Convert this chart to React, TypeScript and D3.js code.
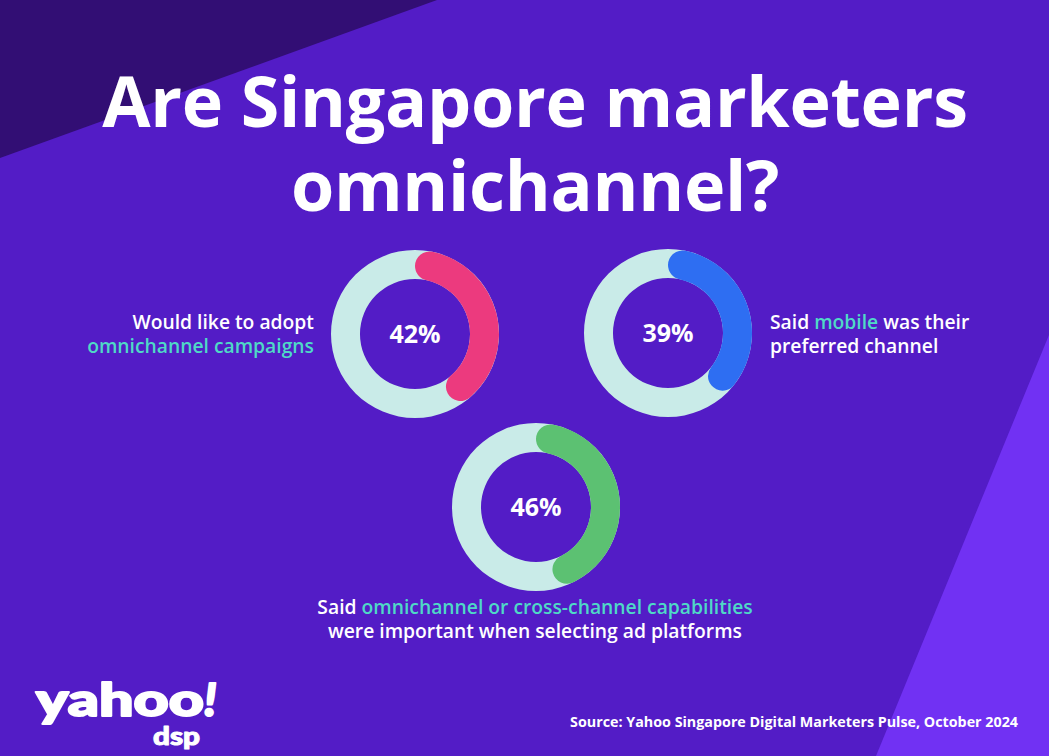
import React from "react";
import * as d3 from "d3";

const titleLines = ["Are Singapore marketers", "omnichannel?"];
const stats = ["q1", "q2", "q3"];
const percents = [42, 39, 46];
const arcColors = ["#EC3A7E", "#2E6EF2", "#5CC172"];
// label segments: [text, highlighted]
const labelLines: [string, boolean][][][] = [
  [[["Would like to adopt", false]], [["omnichannel campaigns", true]]],
  [[["Said ", false], ["mobile", true], [" was their", false]], [["preferred channel", false]]],
  [
    [["Said ", false], ["omnichannel or cross-channel capabilities", true]],
    [["were important when selecting ad platforms", false]],
  ],
];
const sourceText = "Source: Yahoo Singapore Digital Marketers Pulse, October 2024";

const W = 1049;
const H = 756;
const FONT = "'Open Sans', 'Noto Sans', sans-serif";

const centers = [
  { cx: 415, cy: 334 },
  { cx: 668, cy: 333 },
  { cx: 536, cy: 507 },
];
const labelPos = [
  { x: 314, y: 329, anchor: "end" },
  { x: 770, y: 329, anchor: "start" },
  { x: 535, y: 614, anchor: "middle" },
];

export default function App() {
  const angle = d3.scaleLinear().domain([0, 100]).range([0, 2 * Math.PI]);
  const outer = 84;
  const inner = 55;
  const track = d3.arc<any>().innerRadius(inner).outerRadius(outer).startAngle(0).endAngle(2 * Math.PI);
  const fg = d3
    .arc<any>()
    .innerRadius(inner)
    .outerRadius(outer)
    .cornerRadius((outer - inner) / 2)
    .startAngle(0)
    .endAngle((d: number) => angle(d));

  return (
    <svg
      width={W}
      height={H}
      style={{ position: "absolute", left: 0, top: 0, display: "block" }}
      fontFamily={FONT}
    >
      <rect x={0} y={0} width={W} height={H} fill="#531CC6" />
      <polygon points={`0,0 437,0 0,158`} fill="#320E74" />
      <polygon points={`1049,335 1049,756 876,756`} fill="#7131F3" />

      {titleLines.map((t, i) => (
        <text
          key={t}
          x={535}
          y={127 + i * 84}
          textAnchor="middle"
          fill="#FFFFFF"
          fontWeight={700}
          fontSize={70}
          letterSpacing={-0.3}
        >
          {t}
        </text>
      ))}

      {stats.map((s, i) => (
        <g key={s} transform={`translate(${centers[i].cx},${centers[i].cy})`}>
          <path d={track(null) as string} fill="#C9EBE8" />
          <path d={fg(percents[i]) as string} fill={arcColors[i]} />
          <text
            x={0}
            y={9}
            textAnchor="middle"
            fill="#FFFFFF"
            fontWeight={700}
            fontSize={25}
          >
            {`${percents[i]}%`}
          </text>
        </g>
      ))}

      {labelLines.map((lines, i) => (
        <g key={i}>
          {lines.map((segs, j) => (
            <text
              key={j}
              x={labelPos[i].x}
              y={labelPos[i].y + j * 24}
              textAnchor={labelPos[i].anchor as any}
              fontWeight={600}
              fontSize={19.3}
              fill="#FFFFFF"
            >
              {segs.map(([t, hi], k) => (
                <tspan key={k} fill={hi ? "#4FD9C6" : "#FFFFFF"}>
                  {t}
                </tspan>
              ))}
            </text>
          ))}
        </g>
      ))}

      <text
        x={1018}
        y={727}
        textAnchor="end"
        fill="#FFFFFF"
        fontWeight={700}
        fontSize={14.3}
      >
        {sourceText}
      </text>

      <g
        fill="#FFFFFF"
        stroke="#FFFFFF"
        strokeLinejoin="round"
        fontFamily="Lato, 'Open Sans', sans-serif"
        fontWeight={900}
      >
        <text x={36} y={716} fontSize={46} strokeWidth={2} textLength={168} lengthAdjust="spacingAndGlyphs">
          yahoo
        </text>
        <text x={204} y={716} fontSize={46} strokeWidth={2} fontStyle="italic">
          !
        </text>
        <text x={153} y={745} fontSize={25} strokeWidth={1} textLength={47} lengthAdjust="spacingAndGlyphs">
          dsp
        </text>
      </g>
    </svg>
  );
}
